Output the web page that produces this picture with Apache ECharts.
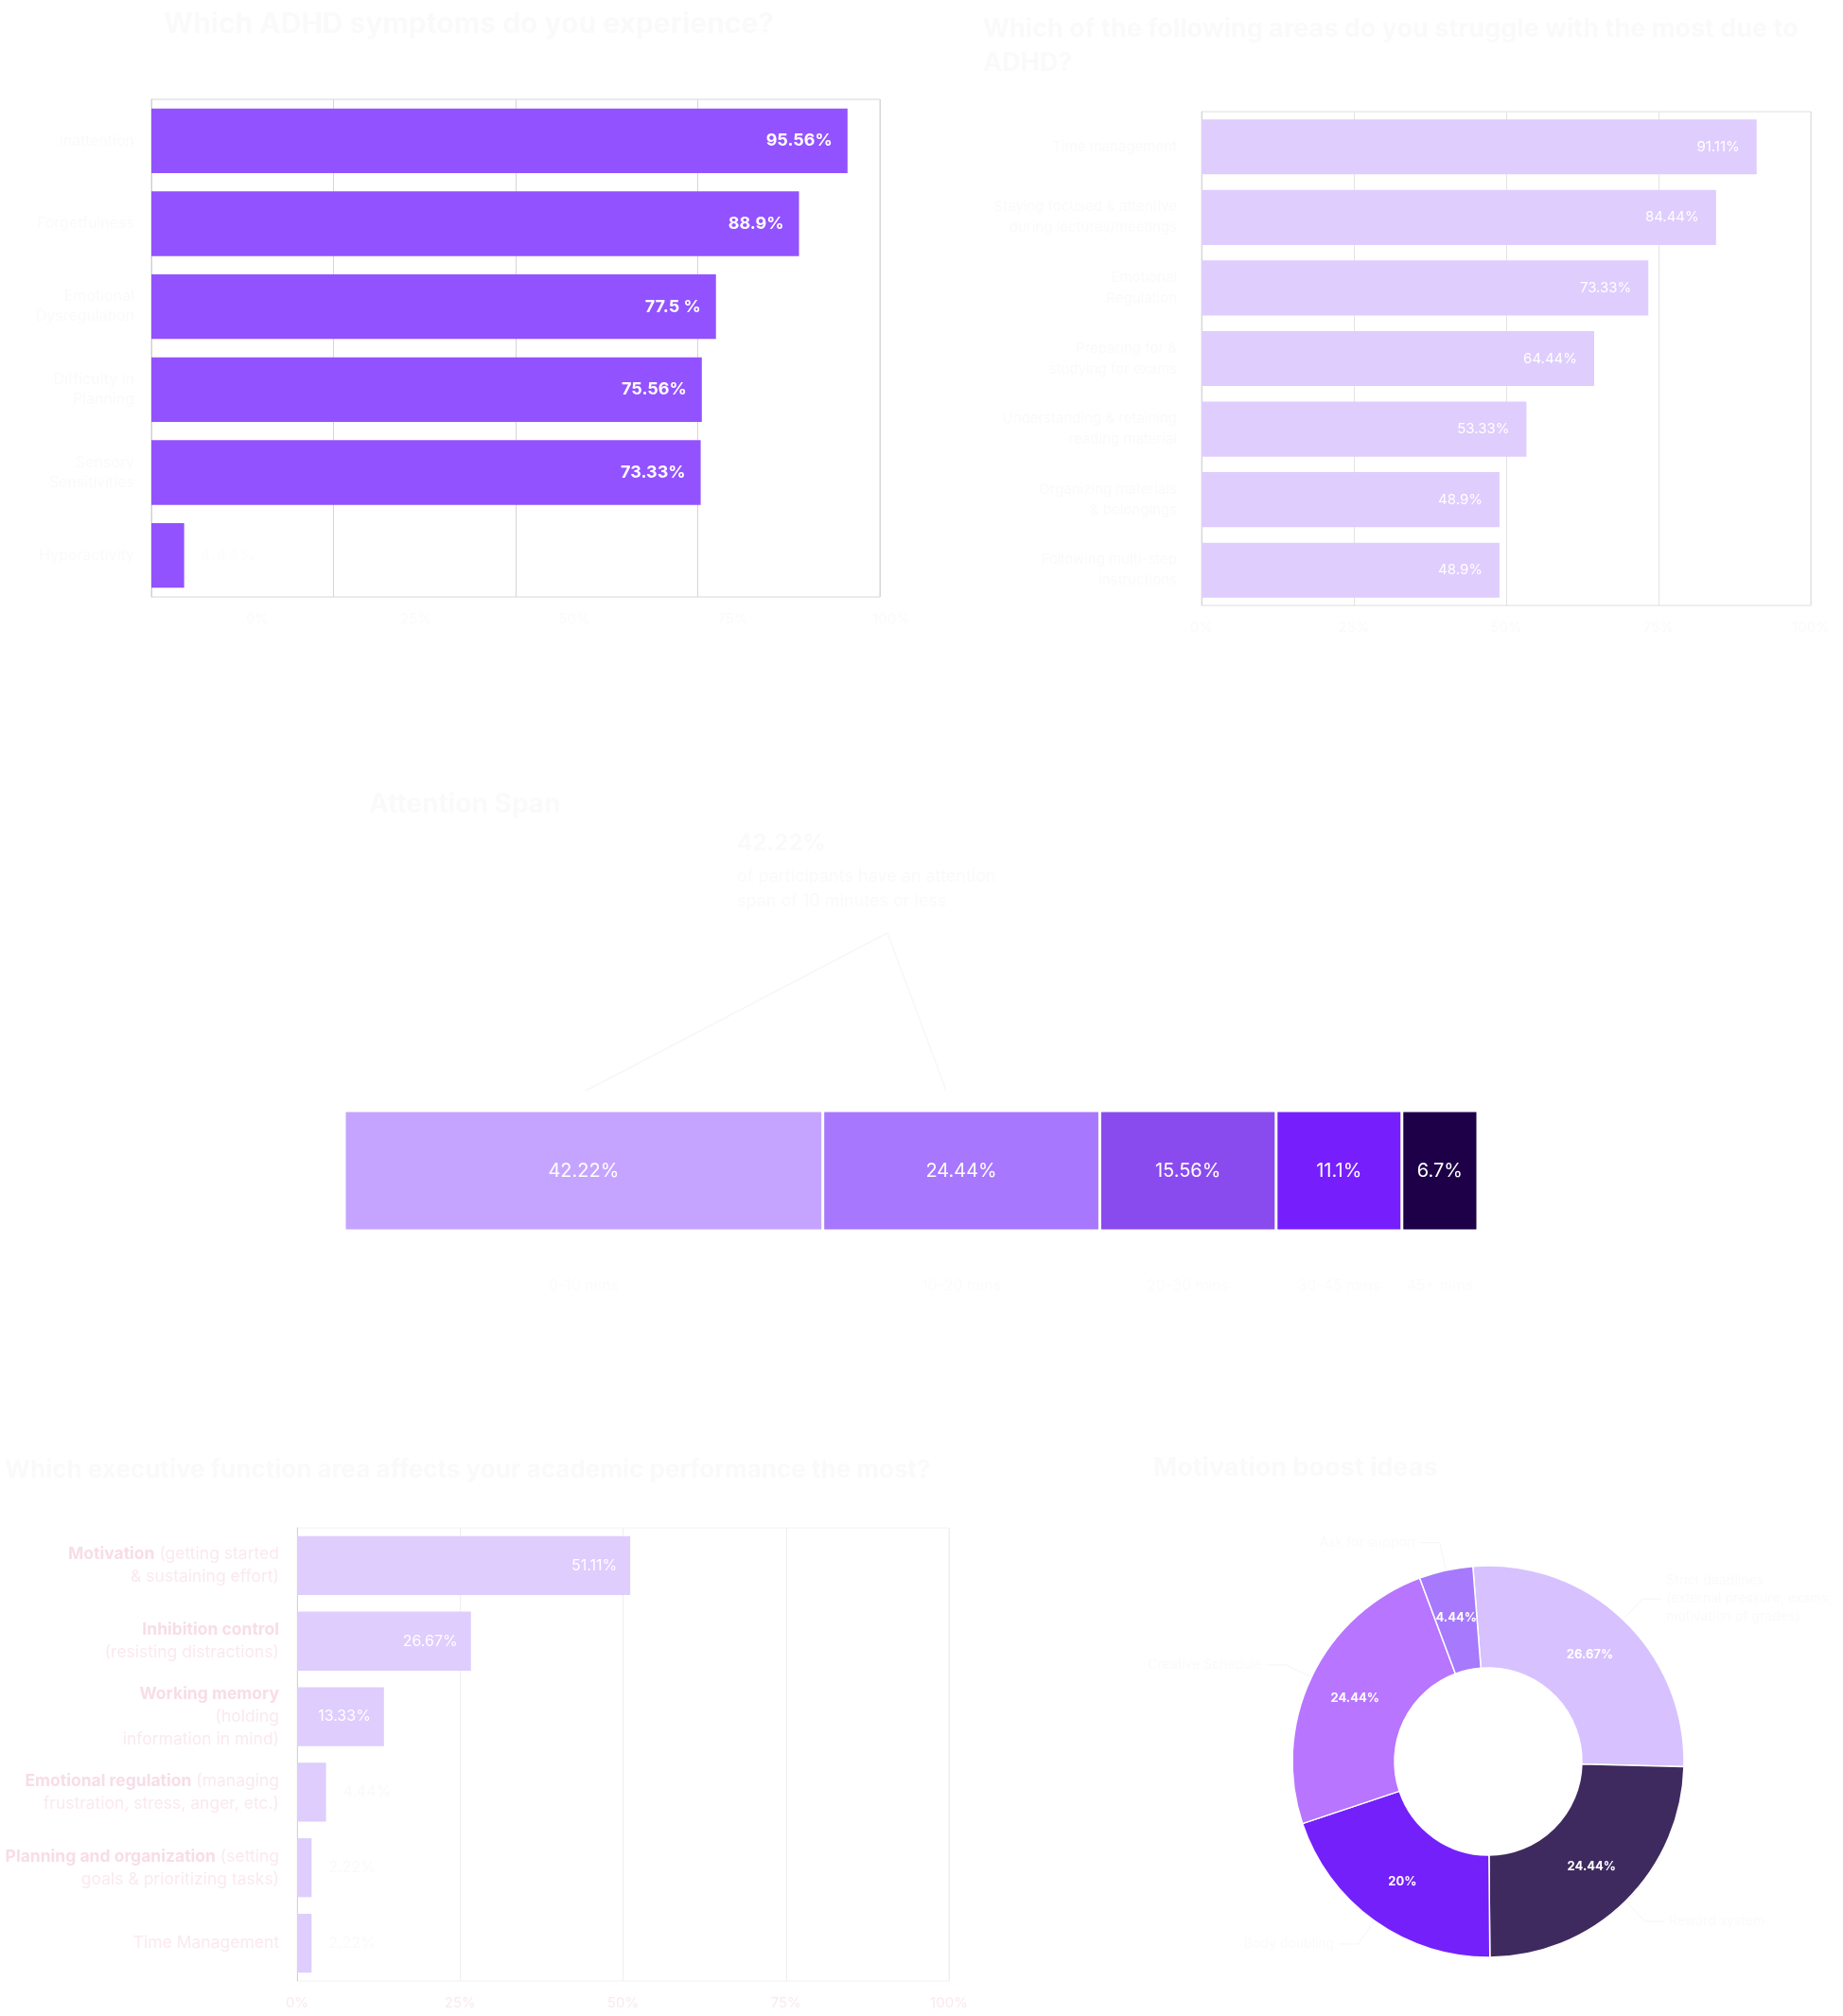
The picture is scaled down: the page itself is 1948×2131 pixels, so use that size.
<!DOCTYPE html>
<html><head><meta charset="utf-8">
<script src="https://cdn.jsdelivr.net/npm/echarts@6/dist/echarts.min.js"></script>
<style>html,body{margin:0;padding:0;background:#fff}#c{width:1948px;height:2131px}</style>
</head><body><div id="c"></div>
<script>
// ---------- data ----------
const pctTicks = ['0%', '25%', '50%', '75%', '100%'];

const symptomCats = ['Inattention', 'Forgetfulness', 'Emotional\nDysregulation', 'Difficulty in\nPlanning', 'Sensory\nSensitivities', 'Hyperactivity'];
const symptomVals = [95.56, 88.9, 77.5, 75.56, 75.4, 4.5];
const symptomLabels = ['95.56%', '88.9%', '77.5 %', '75.56%', '73.33%', '4.44%'];

const areaCats = ['Time management', 'Staying focused & attentive\nduring lectures/meetings', 'Emotional\nRegulation', 'Preparing for &\nstudying for exams', 'Understanding & retaining\nreading material', 'Organizing materials\n& belongings', 'Following multi-step\ninstructions'];
const areaVals = [91.11, 84.44, 73.33, 64.44, 53.33, 48.9, 48.9];

const spanCats = ['0-10 mins', '10-20 mins', '20-30 mins', '30-45 mins', '45+ mins'];
const spanVals = [42.22, 24.44, 15.56, 11.1, 6.7];
const spanLabels = ['42.22%', '24.44%', '15.56%', '11.1%', '6.7%'];

const efCats = [
  '{b|Motivation} {n|(getting started}\n{n|& sustaining effort)}',
  '{b|Inhibition control}\n{n|(resisting distractions)}',
  '{b|Working memory}\n{n|(holding}\n{n|information in mind)}',
  '{b|Emotional regulation} {n|(managing}\n{n|frustration, stress, anger, etc.)}',
  '{b|Planning and organization} {n|(setting}\n{n|goals & prioritizing tasks)}',
  '{n|Time Management}'
];
const efVals = [51.11, 26.67, 13.33, 4.44, 2.22, 2.22];
const efLabels = ['51.11%', '26.67%', '13.33%', '4.44%', '2.22%', '2.22%'];

const boostNames = ['Strict deadlines\n(external pressure, exams,\nmotivation of grades)', 'Reward system', 'Body doubling', 'Creative Schedule', 'Ask for support'];
const boostVals = [26.67, 24.44, 20, 24.44, 4.44];
const boostLabels = ['26.67%', '24.44%', '20%', '24.44%', '4.44%'];

// ---------- styles ----------
const FONT = 'Inter';
const FAINT = '#fafafa';
const PINK = '#fbe8f0';
const spanColors = ['#c5a4ff', '#a778fd', '#8a4bee', '#761ffc', '#1d0048'];
const boostColors = ['#d7c1ff', '#3e2a5f', '#7420fb', '#b875ff', '#a679fd'];

const chart = echarts.init(document.getElementById('c'), null, {renderer: 'canvas'});

function pctAxis(gridIndex, color, gridColor, fontSize, showLabel) {
  return {
    type: 'value', gridIndex: gridIndex, min: 0, max: 100, interval: 25,
    axisLine: {show: false}, axisTick: {show: false},
    splitLine: {show: true, lineStyle: {color: gridColor, width: 1}},
    axisLabel: {show: showLabel, color: color, fontFamily: FONT, fontSize: fontSize, margin: 16,
      formatter: function (v) { return pctTicks[Math.round(v / 25)]; }}
  };
}
function G(o) { o.containLabel = false; o.outerBoundsMode = 'none'; return o; }

// cumulative centers for stacked-bar category labels
const spanCenters = [];
let acc = 0;
spanVals.forEach(function (v) { spanCenters.push(acc + v / 2); acc += v; });
const spanTotal = acc;

const option = {
  backgroundColor: '#ffffff',
  animation: false,
  textStyle: {fontFamily: FONT},
  title: [
    {text: 'Which ADHD symptoms do you experience?', left: 168, top: 6,
      textStyle: {color: FAINT, fontSize: 30, fontWeight: 'bold', fontFamily: FONT}},
    {text: 'Which of the following areas do you struggle with the most due to\nADHD?', left: 1034, top: 8,
      textStyle: {color: FAINT, fontSize: 27, fontWeight: 'bold', fontFamily: FONT, lineHeight: 36}},
    {text: 'Attention Span', left: 385, top: 832,
      textStyle: {color: FAINT, fontSize: 28, fontWeight: 'bold', fontFamily: FONT}},
    {text: 'Which executive function area affects your academic performance the most?', left: 0, top: 1536,
      textStyle: {color: FAINT, fontSize: 26, fontWeight: 'bold', fontFamily: FONT}},
    {text: 'Motivation boost ideas', left: 1214, top: 1533,
      textStyle: {color: FAINT, fontSize: 27, fontWeight: 'bold', fontFamily: FONT}}
  ],
  grid: [
    G({left: 160, top: 105, width: 770, height: 526, show: true, borderColor: '#d6d6d6', borderWidth: 1}),
    G({left: 1270, top: 118, width: 644, height: 522, show: true, borderColor: '#dedede', borderWidth: 1}),
    G({left: 364, top: 1174, width: 1198, height: 127}),
    G({left: 314, top: 1615, width: 689, height: 479, show: true, borderColor: '#f2f2f2', borderWidth: 1}),
    G({left: 272, top: 105, width: 670, height: 526})
  ],
  xAxis: [
    pctAxis(0, FAINT, '#d6d6d6', 15, false),
    pctAxis(1, FAINT, '#e3e3e3', 15, true),
    {type: 'value', gridIndex: 2, min: 0, max: spanTotal, show: false},
    pctAxis(3, PINK, '#eeeeee', 15, true),
    {type: 'value', gridIndex: 4, min: 0, max: 100, interval: 25,
      axisLine: {show: false}, axisTick: {show: false}, splitLine: {show: false},
      axisLabel: {color: FAINT, fontFamily: FONT, fontSize: 15, margin: 16,
        formatter: function (v) { return pctTicks[Math.round(v / 25)]; }}}
  ],
  yAxis: [
    {type: 'category', gridIndex: 0, inverse: true, data: symptomCats,
      axisTick: {show: false}, axisLine: {show: true, lineStyle: {color: '#cfcfcf'}},
      axisLabel: {color: FAINT, fontFamily: FONT, fontSize: 16, lineHeight: 21, margin: 18, align: 'right'}},
    {type: 'category', gridIndex: 1, inverse: true, data: areaCats,
      axisTick: {show: false}, axisLine: {show: true, lineStyle: {color: '#d6d6d6'}},
      axisLabel: {color: FAINT, fontFamily: FONT, fontSize: 15, lineHeight: 22, margin: 26, align: 'right'}},
    {type: 'category', gridIndex: 2, data: ['Attention span'], show: false},
    {type: 'category', gridIndex: 3, inverse: true, data: efCats,
      axisTick: {show: false}, axisLine: {show: true, lineStyle: {color: '#d3d3d3'}},
      axisLabel: {fontFamily: FONT, fontSize: 17.5, lineHeight: 24, margin: 19, align: 'right',
        rich: {
          b: {color: '#f8dde8', fontWeight: 'bold', fontSize: 17.5, fontFamily: FONT, lineHeight: 24},
          n: {color: '#fbe9f0', fontSize: 17.5, fontFamily: FONT, lineHeight: 24}
        }}},
    {type: 'category', gridIndex: 4, data: ['x'], show: false}
  ],
  series: [
    {type: 'bar', xAxisIndex: 0, yAxisIndex: 0, barWidth: '78%',
      itemStyle: {color: '#9352ff'},
      data: symptomVals.map(function (v, i) {
        return {value: v, label: i === 5 ? {position: 'right', color: '#fdfdfd', fontWeight: 'bold'} : {}};
      }),
      label: {show: true, position: 'insideRight', distance: 16, color: '#ffffff', fontWeight: 'bold', fontSize: 18, fontFamily: FONT,
        formatter: function (p) { return symptomLabels[p.dataIndex]; }}},
    {type: 'bar', xAxisIndex: 1, yAxisIndex: 1, barWidth: '78%',
      itemStyle: {color: '#dfcdfe'}, data: areaVals,
      label: {show: true, position: 'insideRight', distance: 18, color: '#ffffff', fontSize: 15, fontFamily: FONT,
        formatter: function (p) { return p.value + '%'; }}}
  ].concat(spanVals.map(function (v, i) {
    return {type: 'bar', name: spanCats[i], xAxisIndex: 2, yAxisIndex: 2, stack: 'span', barWidth: '100%',
      itemStyle: {color: spanColors[i], borderColor: '#ffffff', borderWidth: 1.5},
      label: {show: true, position: 'inside', color: '#ffffff', fontSize: 20, fontFamily: FONT, formatter: spanLabels[i]},
      data: [v]};
  })).concat([
    {type: 'scatter', xAxisIndex: 2, yAxisIndex: 2, symbolSize: 0, silent: true,
      data: spanCenters.map(function (c, i) { return {value: [c, 0], name: spanCats[i]}; }),
      label: {show: true, position: 'inside', offset: [0, 122], color: FAINT, fontSize: 16, fontFamily: FONT,
        formatter: function (p) { return spanCats[p.dataIndex]; }}},
    {type: 'bar', xAxisIndex: 3, yAxisIndex: 3, barWidth: '78%',
      itemStyle: {color: '#dfcdfe'},
      data: efVals.map(function (v, i) {
        return {value: v, label: i >= 3 ? {position: 'right', color: '#fbf8fd', distance: 18} : {}};
      }),
      label: {show: true, position: 'insideRight', distance: 14, color: '#ffffff', fontSize: 16, fontFamily: FONT,
        formatter: function (p) { return efLabels[p.dataIndex]; }}},
    {type: 'pie', center: [1573, 1862], radius: [99, 207], startAngle: 94.5, clockwise: true,
      avoidLabelOverlap: false,
      itemStyle: {borderColor: '#ffffff', borderWidth: 1.5},
      label: {show: true, position: 'outside', color: FAINT, fontSize: 14, fontFamily: FONT, lineHeight: 19},
      labelLine: {show: true, length: 30, length2: 20, lineStyle: {color: '#f5f5f5'}},
      data: boostVals.map(function (v, i) { return {value: v, name: boostNames[i], itemStyle: {color: boostColors[i]}}; })},
    {type: 'pie', center: [1573, 1862], radius: [99, 207], startAngle: 94.5, clockwise: true, silent: true,
      itemStyle: {color: 'rgba(0,0,0,0)'},
      label: {show: true, position: 'inside', color: '#ffffff', fontWeight: 'bold', fontSize: 13, fontFamily: FONT,
        formatter: function (p) { return boostLabels[p.dataIndex]; }},
      labelLine: {show: false},
      data: boostVals.map(function (v, i) { return {value: v, name: boostNames[i]}; })}
  ]),
  graphic: [
    {type: 'text', left: 779, top: 880, style: {text: '42.22%', fill: FAINT, font: 'bold 24px Inter'}},
    {type: 'text', left: 779, top: 914, style: {text: 'of participants have an attention\nspan of 10 minutes or less', fill: FAINT, font: '18px Inter', lineHeight: 26}},
    {type: 'polyline', shape: {points: [[619, 1153], [938, 986], [1000, 1153]]}, style: {stroke: '#f7f7f7', lineWidth: 1.5, fill: null}}
  ]
};
chart.setOption(option);
</script></body></html>
